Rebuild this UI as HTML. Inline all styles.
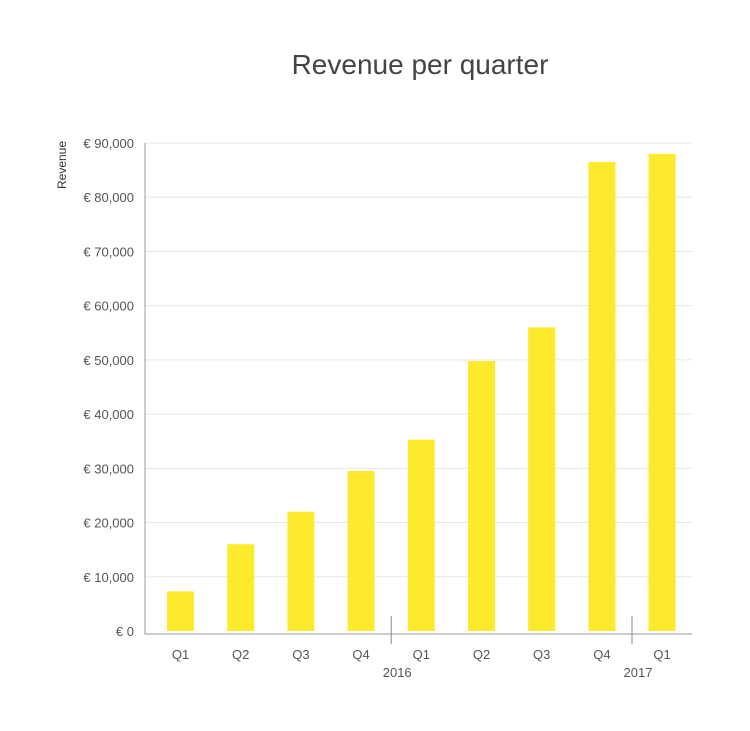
<!DOCTYPE html>
<html><head><meta charset="utf-8"><style>
body{margin:0;background:#fff;width:750px;height:726px;overflow:hidden}
svg text{font-family:"Liberation Sans",sans-serif;fill:#555}
</style></head><body>
<svg id="c" width="750" height="726">
<text x="420" y="74" text-anchor="middle" font-size="28" style="fill:#444">Revenue per quarter</text>
<text transform="translate(66,165) rotate(-90)" text-anchor="middle" font-size="12" style="fill:#333">Revenue</text>
<g id="g"></g>
</svg>
<script>
const categories=["Q1","Q2","Q3","Q4","Q1","Q2","Q3","Q4","Q1"];
const revenue=[7300,16000,22000,29500,35300,49800,56000,86500,88000];
const yTicks=[0,10000,20000,30000,40000,50000,60000,70000,80000,90000];
const yearLabels=["2016","2017"];
const yearAfterIndex=[3,7];
const NS="http://www.w3.org/2000/svg";
const g=document.getElementById("g");
const x0=145,x1=692,y0=631,yTop=143,yMax=90000;
const y=v=>y0-(y0-yTop)*v/yMax;
const step=60.2,first=180.5;
const xc=i=>first+i*step;
function mk(t,a){const e=document.createElementNS(NS,t);for(const k in a)e.setAttribute(k,a[k]);g.appendChild(e);return e;}
yTicks.forEach((v,i)=>{
  if(v>0){const l=mk("line",{x1:x0,x2:x1,y1:y(v),y2:y(v),stroke:"#e6e6e6","stroke-width":1});
  
  }
  const t=mk("text",{x:134,y:y(v)+5,"text-anchor":"end","font-size":"13"});
  t.textContent="€ "+v.toLocaleString("en-US");
  
  
});
revenue.forEach((v,i)=>{
  const r=mk("rect",{x:xc(i)-13.5,y:y(v),width:27,height:y0-y(v),fill:"#fdea2c"});
  
  
  const t=mk("text",{x:xc(i),y:659,"text-anchor":"middle","font-size":"13"});
  t.textContent=categories[i];
  
  
});
const ax=mk("path",{d:`M${x0},${yTop} V634 H${x1}`,stroke:"#999",fill:"none","stroke-width":1});


yearAfterIndex.forEach((idx,k)=>{
  const sx=(xc(idx)+xc(idx+1))/2;
  const s=mk("line",{x1:sx,x2:sx,y1:616,y2:644,stroke:"#888","stroke-width":1});
  
  
  const t=mk("text",{x:sx+6,y:677,"text-anchor":"middle","font-size":"13"});
  t.textContent=yearLabels[k];
  
  
});
</script>
</body></html>
